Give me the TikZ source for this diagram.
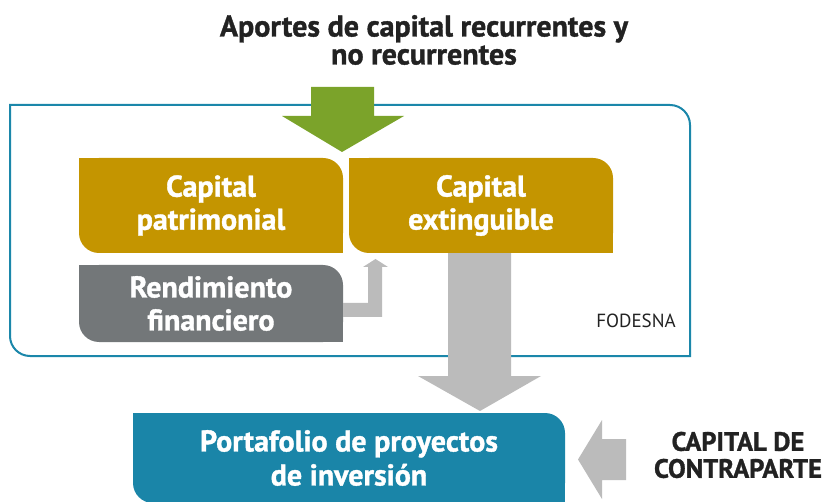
\documentclass[tikz,border=0pt]{standalone}
\usepackage{fontspec}
\usepackage{graphicx}
\setmainfont{PT Sans}[BoldFeatures={FakeBold=1.2}]
\definecolor{gold}{HTML}{C49500}
\definecolor{leaf}{HTML}{7BA32A}
\definecolor{slate}{HTML}{737779}
\definecolor{lgray}{HTML}{BBBBBB}
\definecolor{frameblue}{HTML}{1B87AA}
\definecolor{portblue}{HTML}{1A85A8}
\definecolor{ink}{HTML}{222222}
\tikzset{
  twobox/.style 2 args={inner sep=0pt, minimum width=#2, text=white, align=center,
    path picture={
      \fill[#1,rounded corners=20pt] (path picture bounding box.south west) rectangle (path picture bounding box.north east);
      \fill[#1] (path picture bounding box.north west) rectangle (path picture bounding box.center);
      \fill[#1] (path picture bounding box.center) rectangle (path picture bounding box.south east);
    }},
  boxtext/.style={font=\fontsize{30}{33}\selectfont\bfseries},
  blockarrow/.style={fill=#1, draw=none}
}
\begin{document}
\begin{tikzpicture}[x=1pt,y=-1pt]
\useasboundingbox (0,0) rectangle (824,502);
% title
\node[font=\fontsize{30}{28}\selectfont\bfseries, text=ink, align=center] (title) at (424,40) {Aportes de capital recurrentes y\\no recurrentes};
% FODESNA frame
\draw[frameblue, line width=2pt] (10,105) -- (670,105) arc[start angle=-90, end angle=0, radius=20]
  -- (690,356) -- (30,356) arc[start angle=90, end angle=180, radius=20] -- cycle;
\node[font=\fontsize{19}{20}\selectfont, text=ink] (fod) at (636,321) {FODESNA};
% boxes
\node[twobox={gold}{264pt}, minimum height=95pt, boxtext] (cp) at (211,205.5) {Capital\\patrimonial};
\node[twobox={gold}{264pt}, minimum height=95pt, boxtext] (ce) at (481,205.5) {Capital\\extinguible};
\node[twobox={slate}{264pt}, minimum height=77pt, boxtext] (rf) at (211,303.5) {Rendimiento\\financiero};
\node[twobox={portblue}{432pt}, minimum height=90pt, font=\fontsize{30}{34}\selectfont\bfseries] (port) at (349,458)
  {Portafolio de proyectos\\de inversión};
\node[font=\fontsize{26.5}{27}\selectfont\bfseries, text=ink, align=center] (cdc) at (738,455) {CAPITAL DE\\CONTRAPARTE};
% green arrow into frame
\fill[blockarrow=leaf] (311,87) -- (374,87) -- (374,116) -- (404,116) -- (342,152) -- (282,116) -- (311,116) -- cycle;
% elbow arrow from rendimiento to capital extinguible
\fill[blockarrow=lgray] (rf.east |- 0,303) -- (368,303) -- (368,267) -- (363,267) -- (375.5,259) -- (388,267) -- (382,267) -- (382,317) -- (rf.east |- 0,317) -- cycle;
% big down arrow from capital extinguible to portfolio
\fill[blockarrow=lgray] (448,0 |- ce.south) -- (511,0 |- ce.south) -- (511,376) -- (541,376) -- (480,411) -- (418,376) -- (448,376) -- cycle;
% left arrow from contraparte to portfolio
\fill[blockarrow=lgray] (626,439) -- (602,439) -- (602,420) -- (578,459.5) -- (602,499) -- (602,480) -- (626,480) -- cycle;
\end{tikzpicture}
\end{document}
